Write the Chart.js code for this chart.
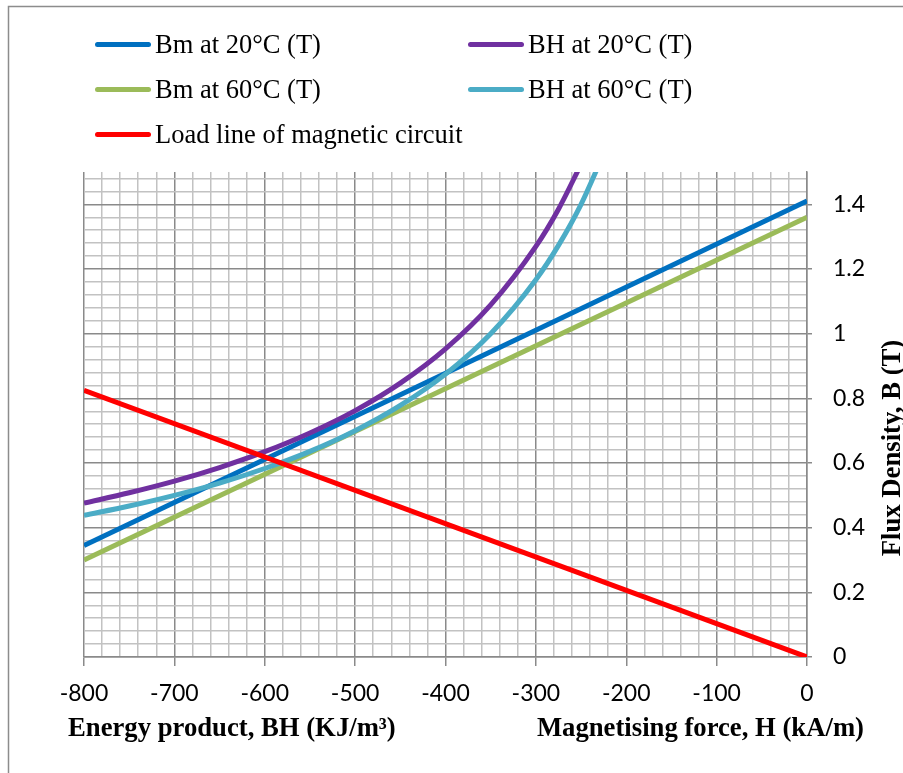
<!DOCTYPE html>
<html>
<head>
<meta charset="utf-8">
<title>Demagnetisation curves and load line</title>
<script src="https://cdn.jsdelivr.net/npm/chart.js@4.4.1/dist/chart.umd.min.js"></script>
<style>
  html, body { margin: 0; padding: 0; background: #fff; }
  #wrap { position: relative; width: 903px; height: 773px; }
  #legend {
    position: absolute; left: 95px; top: 22px;
    display: grid; grid-template-columns: 373px 300px; row-gap: 0;
    font-family: "Liberation Serif", "Times New Roman", serif; font-size: 26.5px; color: #000;
  }
  .item { display: flex; align-items: center; height: 45px; white-space: nowrap; }
  .swatch { display: inline-block; width: 56px; height: 5px; border-radius: 3px; margin-right: 4px; }
</style>
</head>
<body>
<div id="wrap">
  <canvas id="myChart" width="903" height="773"></canvas>
  <div id="legend"></div>
</div>
<script>
// axis labels
const xTickLabels = ['-800', '-700', '-600', '-500', '-400', '-300', '-200', '-100', '0'];
const yTickLabels = ['0', '0.2', '0.4', '0.6', '0.8', '1', '1.2', '1.4'];

// Bm lines (magnetising force H, kA/m)
const bmH = [-800, 0];
const bm20 = [0.345, 1.41];
const bm60 = [0.30, 1.36];

// load line
const loadH = [-800, 0];
const loadB = [0.825, 0];

// BH curves (energy product, kJ/m3)
const bh20X = [-800, -750, -700, -650, -600, -550, -500, -450, -400, -350, -300, -275, -250];
const bh20 = [0.476, 0.508, 0.544, 0.586, 0.635, 0.693, 0.762, 0.847, 0.953, 1.089, 1.27, 1.385, 1.524];
const bh60X = [-800, -750, -700, -650, -600, -550, -500, -450, -400, -350, -300, -275, -250, -225];
const bh60 = [0.438, 0.467, 0.50, 0.538, 0.583, 0.636, 0.70, 0.778, 0.875, 1.0, 1.167, 1.273, 1.40, 1.556];

const seriesNames = ['Bm at 20°C (T)', 'BH at 20°C (T)', 'Bm at 60°C (T)', 'BH at 60°C (T)', 'Load line of magnetic circuit'];
const seriesColors = ['#0070C0', '#7030A0', '#9BBB59', '#4BACC6', '#FF0000'];

const xMajor = xTickLabels.map(Number);
const yMajor = yTickLabels.map(Number);
const isMajor = (v, list) => list.some(m => Math.abs(m - v) < 1e-6);

const pts = (xs, ys) => xs.map((x, i) => ({ x: x, y: ys[i] }));

const MAJOR = '#8a8a8a';
const MINOR = '#c2c2c2';

// titles and outer frame drawn on the canvas
const titlesPlugin = {
  id: 'titles',
  beforeDraw(chart) {
    const ctx = chart.ctx;
    ctx.save();
    ctx.fillStyle = '#fff';
    ctx.fillRect(0, 0, chart.width, chart.height);
    ctx.strokeStyle = '#8c8c8c';
    ctx.lineWidth = 1.5;
    ctx.strokeRect(8.5, 6.5, 1000, 1000);
    ctx.restore();
  },
  afterDraw(chart) {
    const ctx = chart.ctx;
    ctx.save();
    ctx.fillStyle = '#000';
    ctx.font = 'bold 26.7px "Liberation Serif", "Times New Roman", serif';
    ctx.textBaseline = 'alphabetic';
    ctx.textAlign = 'left';
    ctx.fillText('Energy product, BH (KJ/m³)', 68, 736);
    ctx.textAlign = 'right';
    ctx.fillText('Magnetising force, H (kA/m)', 864, 736);
    ctx.translate(900, 448);
    ctx.rotate(-Math.PI / 2);
    ctx.textAlign = 'center';
    ctx.fillText('Flux Density, B (T)', 0, 0);
    ctx.restore();
  }
};

const ctx = document.getElementById('myChart').getContext('2d');
const myChart = new Chart(ctx, {
  type: 'line',
  data: {
    datasets: [
      { label: seriesNames[0], data: pts(bmH, bm20), borderColor: seriesColors[0], order: 4 },
      { label: seriesNames[1], data: pts(bh20X, bh20), borderColor: seriesColors[1], order: 3, cubicInterpolationMode: 'monotone' },
      { label: seriesNames[2], data: pts(bmH, bm60), borderColor: seriesColors[2], order: 2 },
      { label: seriesNames[3], data: pts(bh60X, bh60), borderColor: seriesColors[3], order: 1, cubicInterpolationMode: 'monotone' },
      { label: seriesNames[4], data: pts(loadH, loadB), borderColor: seriesColors[4], order: 0 }
    ].map(d => Object.assign({ borderWidth: 5, pointRadius: 0, fill: false }, d))
  },
  options: {
    responsive: false,
    animation: false,
    events: [],
    layout: { padding: { left: 84, top: 172, right: 0, bottom: 0 } },
    plugins: {
      legend: { display: false },
      tooltip: { enabled: false },
      title: { display: false }
    },
    scales: {
      x: {
        type: 'linear',
        position: 'bottom',
        min: -800,
        max: 0,
        afterBuildTicks: (axis) => {
          const t = [];
          for (let v = -800; v <= 0; v += 20) t.push({ value: v });
          axis.ticks = t;
        },
        afterFit: (axis) => { axis.height = 116; },
        ticks: {
          autoSkip: false,
          maxRotation: 0,
          padding: 14,
          color: '#000',
          font: { family: 'Lato', size: 23 },
          callback: (v) => {
            const i = xMajor.findIndex(m => Math.abs(m - v) < 1e-6);
            return i >= 0 ? xTickLabels[i] : '';
          }
        },
        grid: {
          color: (c) => isMajor(c.tick.value, xMajor) ? MAJOR : MINOR,
          lineWidth: 1.5,
          tickLength: 9,
          tickColor: (c) => isMajor(c.tick.value, xMajor) ? MAJOR : 'rgba(0,0,0,0)',
          tickWidth: 1.5
        },
        border: { color: MAJOR, width: 1.5 }
      },
      y: {
        type: 'linear',
        position: 'right',
        min: 0,
        max: 1.5,
        afterBuildTicks: (axis) => {
          const t = [];
          for (let i = 0; i <= 37; i++) t.push({ value: Math.round(i * 4) / 100 });
          axis.ticks = t;
        },
        afterFit: (axis) => { axis.width = 96; },
        ticks: {
          autoSkip: false,
          padding: 21,
          color: '#000',
          font: { family: 'Lato', size: 23 },
          callback: (v) => {
            const i = yMajor.findIndex(m => Math.abs(m - v) < 1e-6);
            return i >= 0 ? yTickLabels[i] : '';
          }
        },
        grid: {
          color: (c) => isMajor(c.tick.value, yMajor) ? MAJOR : MINOR,
          lineWidth: 1.5,
          tickLength: 5,
          tickColor: (c) => isMajor(c.tick.value, yMajor) ? MAJOR : 'rgba(0,0,0,0)',
          tickWidth: 1.5
        },
        border: { color: MAJOR, width: 1.5 }
      }
    }
  },
  plugins: [titlesPlugin]
});

// html legend, two columns like the original
const legendOrder = [0, 1, 2, 3, 4];
const legendEl = document.getElementById('legend');
legendOrder.forEach(i => {
  const item = document.createElement('div');
  item.className = 'item';
  const sw = document.createElement('span');
  sw.className = 'swatch';
  sw.style.background = seriesColors[i];
  const txt = document.createElement('span');
  txt.textContent = seriesNames[i];
  item.appendChild(sw);
  item.appendChild(txt);
  legendEl.appendChild(item);
});
</script>
</body>
</html>
